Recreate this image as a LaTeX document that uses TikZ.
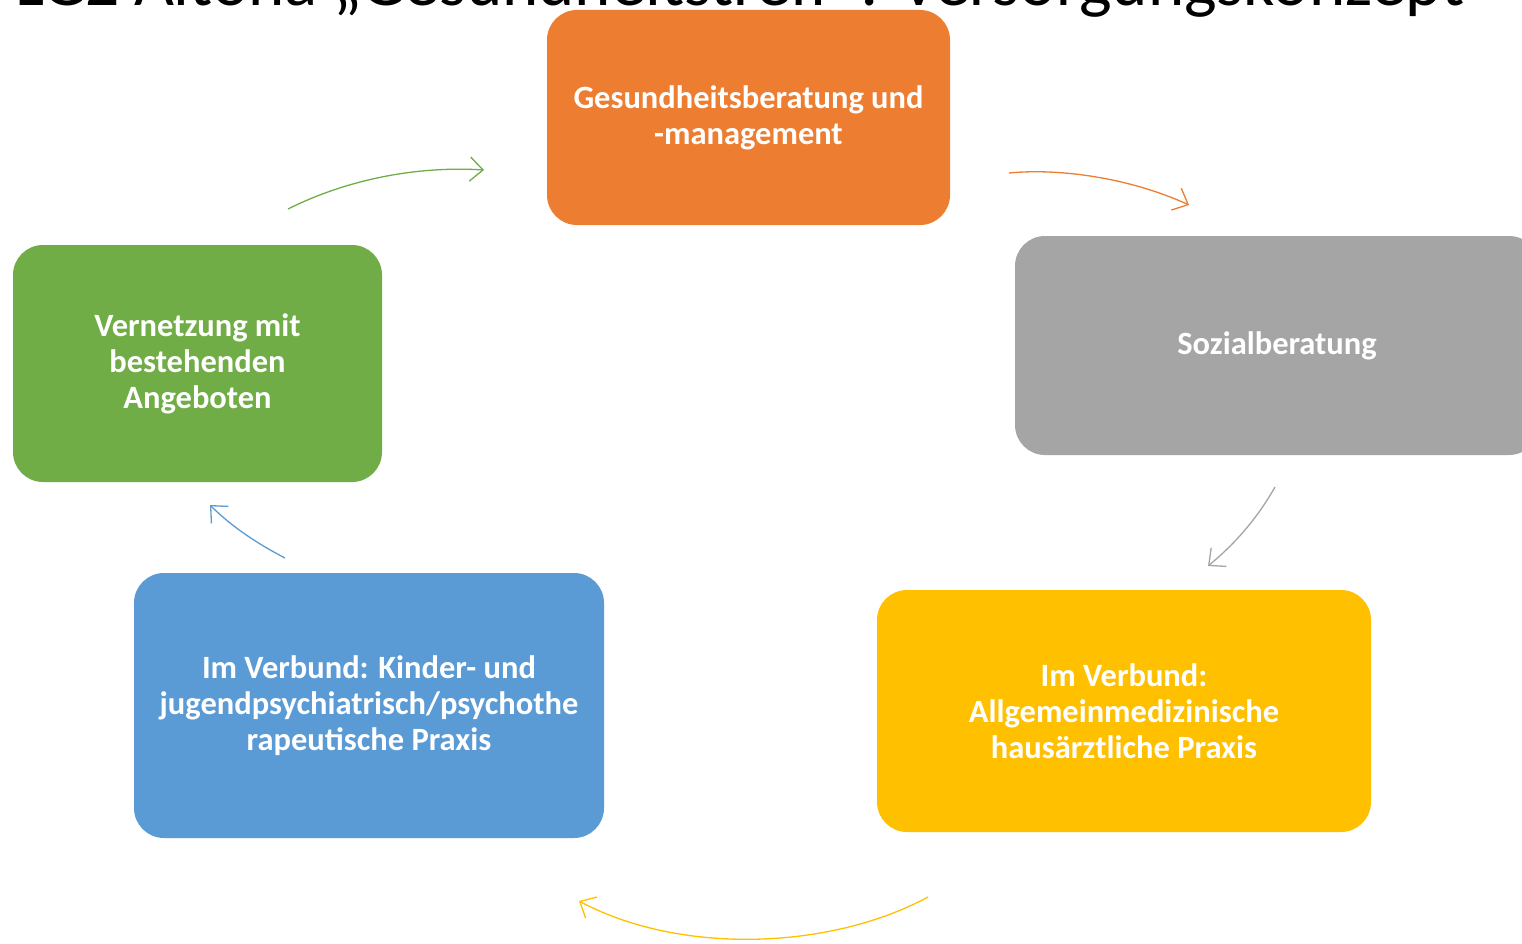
\documentclass[tikz,border=0pt]{standalone}
\usepackage{fontspec}
\setmainfont{Carlito}
\usetikzlibrary{arrows.meta}
\definecolor{corange}{HTML}{ED7D31}
\definecolor{cgray}{HTML}{A5A5A5}
\definecolor{cgreen}{HTML}{70AD47}
\definecolor{cblue}{HTML}{5B9BD5}
\definecolor{cyellow}{HTML}{FFC000}
\tikzset{
  box/.style={rounded corners=30pt, inner sep=0pt, align=center, text=white,
    font=\fontsize{32.5}{36}\selectfont\bfseries},
  cyc/.style={line width=1.3pt, -{Straight Barb[length=13pt,width=24pt,line width=1.3pt]}}
}
\begin{document}
\begin{tikzpicture}[x=1pt,y=-1pt]
\useasboundingbox (0,0) rectangle (1522,944);
\clip (0,0) rectangle (1522,944);
\fill[white] (0,0) rectangle (1522,944);
\node[anchor=base west, inner sep=0pt, font=\fontsize{69}{78}\selectfont] (title) at (15,6)
  {LGZ Altona „Gesundheitstreff“: Versorgungskonzept};
\node[box, fill=corange, minimum width=403pt, minimum height=215pt] (ges) at (748.5,117.5)
  {\rule{0pt}{0pt}\raisebox{0pt}{}Gesundheitsberatung und\\-management};
\node[box, fill=cgray, minimum width=524pt, minimum height=219pt] (soz) at (1277,345.5)
  {Sozialberatung};
\node[box, fill=cgreen, minimum width=369pt, minimum height=237pt] (ver) at (197.5,363.5)
  {Vernetzung mit\\bestehenden\\Angeboten};
\node[box, fill=cblue, minimum width=470pt, minimum height=265pt] (kjp) at (369,705.5)
  {Im Verbund: Kinder- und\\jugendpsychiatrisch/psychothe\\rapeutische Praxis};
\node[box, fill=cyellow, minimum width=494pt, minimum height=242pt] (allg) at (1124,711)
  {Im Verbund:\\Allgemeinmedizinische\\hausärztliche Praxis};
\coordinate (g1) at (288,209); \coordinate (g2) at (484,170);
\coordinate (o1) at (1009,173); \coordinate (o2) at (1189,205);
\coordinate (s1) at (1275,487); \coordinate (s2) at (1208,566);
\coordinate (y1) at (928,897); \coordinate (y2) at (579,901);
\coordinate (b1) at (285,558); \coordinate (b2) at (210,505);
\draw[cyc, cgreen] (g1) .. controls (350,178) and (420,166) .. (g2);
\draw[cyc, corange] (o1) .. controls (1060,168) and (1130,178) .. (o2);
\draw[cyc, cgray] (s1) .. controls (1258,517) and (1236,543) .. (s2);
\draw[cyc, cyellow] (y1) .. controls (830,950) and (680,955) .. (y2);
\draw[cyc, cblue] (b1) .. controls (258,544) and (232,527) .. (b2);
\end{tikzpicture}
\end{document}
